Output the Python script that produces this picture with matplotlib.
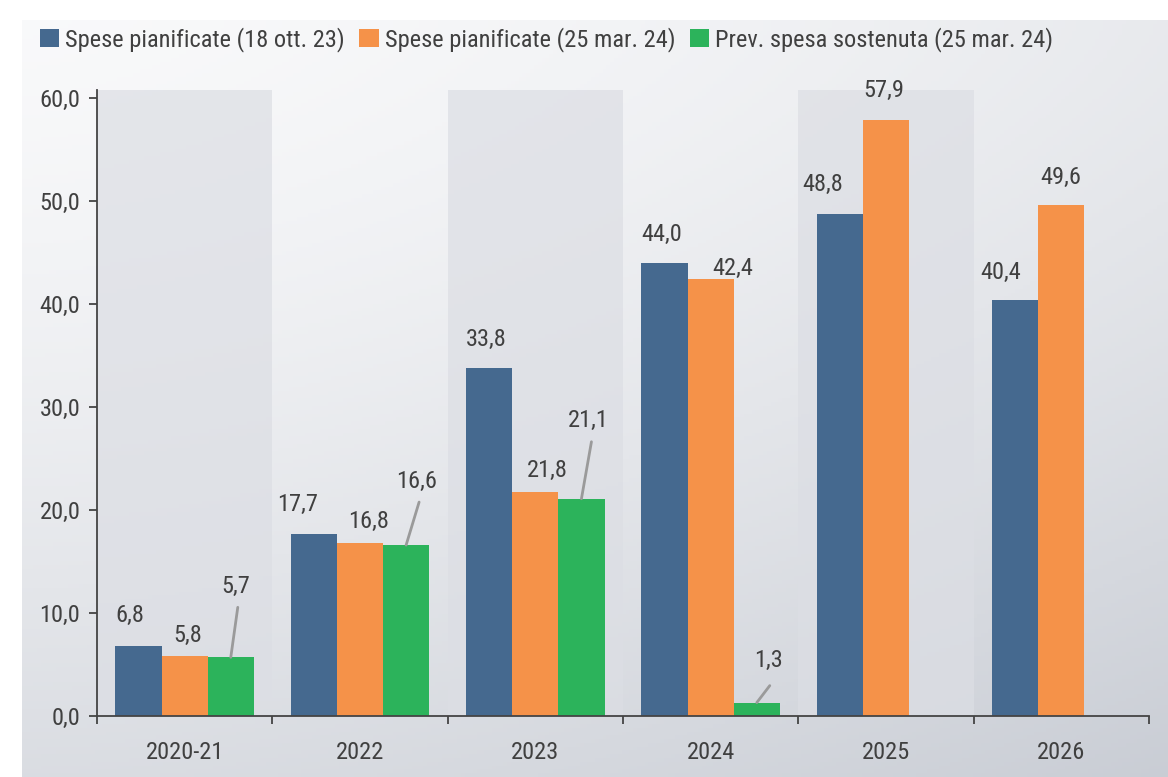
import numpy as np
import matplotlib
matplotlib.use('Agg')
import matplotlib.pyplot as plt
from matplotlib.patches import Patch
from matplotlib import font_manager

# condensed font if present, otherwise DejaVu Sans
names = {f.name for f in font_manager.fontManager.ttflist}
cands = ['Roboto Condensed', 'Liberation Sans Narrow', 'DejaVu Sans Condensed',
         'Open Sans Condensed', 'Noto Sans Condensed']
fam = [c for c in cands if c in names]
plt.rcParams['font.family'] = fam + ['DejaVu Sans']

categories = ['2020-21', '2022', '2023', '2024', '2025', '2026']
spese_ott23 = [6.8, 17.7, 33.8, 44.0, 48.8, 40.4]
spese_mar24 = [5.8, 16.8, 21.8, 42.4, 57.9, 49.6]
prev_sostenuta = [5.7, 16.6, 21.1, 1.3, np.nan, np.nan]

series_names = ['Spese pianificate (18 ott. 23)',
                'Spese pianificate (25 mar. 24)',
                'Prev. spesa sostenuta (25 mar. 24)']
colors = ['#45698f', '#f59249', '#2cb35b']
text_col = '#404040'

# label offsets in pixels (dx, dy) from top of each bar
off_blue = [(-9, 31), (-16, 29), (-3, 29), (-3, 29), (-17, 29), (-15, 28)]
off_orange = [(3, 21), (9, 22), (12, 21), (22, 11), (-2, 29), (-1, 28)]
off_green = [(5, 71), (11, 64), (7, 78), (12, 42)]
lead_green = [(7, 50), (13, 43), (10, 57), (13, 17)]

fs = 17.6 if fam else 14

fig = plt.figure(figsize=(11.68, 7.77), dpi=100)
fig.patch.set_facecolor('white')

# background gradient
bg = fig.add_axes([22 / 1168, 0, 1 - 22 / 1168, 1 - 20 / 777], zorder=-5)
gx, gy = np.meshgrid(np.linspace(0, 1, 300), np.linspace(0, 1, 200))
grad = 0.35 * gx ** 1.5 + 0.65 * gy ** 1.4
grad = grad / grad.max()
c0 = np.array([0.975, 0.977, 0.982])
c1 = np.array([0.79, 0.805, 0.835])
img = c0 + (c1 - c0) * grad[..., None]
bg.imshow(img, aspect='auto', extent=[0, 1, 1, 0])
bg.axis('off')

ax = fig.add_axes([97 / 1168, 1 - 716 / 777, (1149 - 97) / 1168, (716 - 90) / 777])
ax.set_facecolor('none')

x = np.arange(len(categories))
w = 0.263
for i in range(0, len(categories), 2):
    ax.axvspan(i - 0.5, i + 0.5, color='#dcdee4', alpha=0.7, zorder=0, lw=0)

data = [spese_ott23, spese_mar24, prev_sostenuta]
for k, vals in enumerate(data):
    ax.bar(x + (k - 1) * w, vals, width=w, color=colors[k], zorder=2)

def fmt(v):
    return f'{v:.1f}'.replace('.', ',')

for i, v in enumerate(spese_ott23):
    ax.annotate(fmt(v), xy=(x[i] - w, v), xytext=off_blue[i], textcoords='offset pixels',
                ha='center', va='center', fontsize=fs, color=text_col)
for i, v in enumerate(spese_mar24):
    ax.annotate(fmt(v), xy=(x[i], v), xytext=off_orange[i], textcoords='offset pixels',
                ha='center', va='center', fontsize=fs, color=text_col)
for i, v in enumerate(prev_sostenuta):
    if np.isnan(v):
        continue
    ax.annotate(fmt(v), xy=(x[i] + w, v), xytext=off_green[i], textcoords='offset pixels',
                ha='center', va='center', fontsize=fs, color=text_col)
    ax.annotate('', xy=(x[i] + w, v), xytext=lead_green[i], textcoords='offset pixels',
                arrowprops=dict(arrowstyle='-', color='#9a9a9a', lw=2, shrinkA=0, shrinkB=0))

ax.set_xlim(-0.5, len(categories) - 0.5)
ax.set_ylim(0, 60.8)
ax.set_yticks(np.arange(0, 61, 10))
ax.set_yticklabels([fmt(t) for t in np.arange(0, 61, 10)])
ax.set_xticks(np.arange(-0.5, len(categories), 1))
ax.set_xticklabels([])
ax.set_xticks(x, minor=True)
ax.set_xticklabels(categories, minor=True)
ax.tick_params(axis='x', which='major', direction='out', length=6, width=1.3, color='#444444')
ax.tick_params(axis='x', which='minor', length=0, pad=18, labelsize=fs, labelcolor=text_col)
ax.tick_params(axis='y', direction='out', length=6, width=1.3, color='#444444',
               pad=6, labelsize=fs, labelcolor=text_col)
for s in ['top', 'right']:
    ax.spines[s].set_visible(False)
for s in ['left', 'bottom']:
    ax.spines[s].set_color('#444444')
    ax.spines[s].set_linewidth(1.3)

handles = [Patch(facecolor=c, edgecolor='none') for c in colors]
fig.legend(handles, series_names, loc='upper left', bbox_to_anchor=(40 / 1168, 1 - 27 / 777),
           ncol=3, frameon=False, fontsize=fs, handlelength=0.78, handleheight=0.72,
           handletextpad=0.25, columnspacing=0.6, borderpad=0, borderaxespad=0,
           labelcolor=text_col)

fig.savefig('out.png', dpi=100)
